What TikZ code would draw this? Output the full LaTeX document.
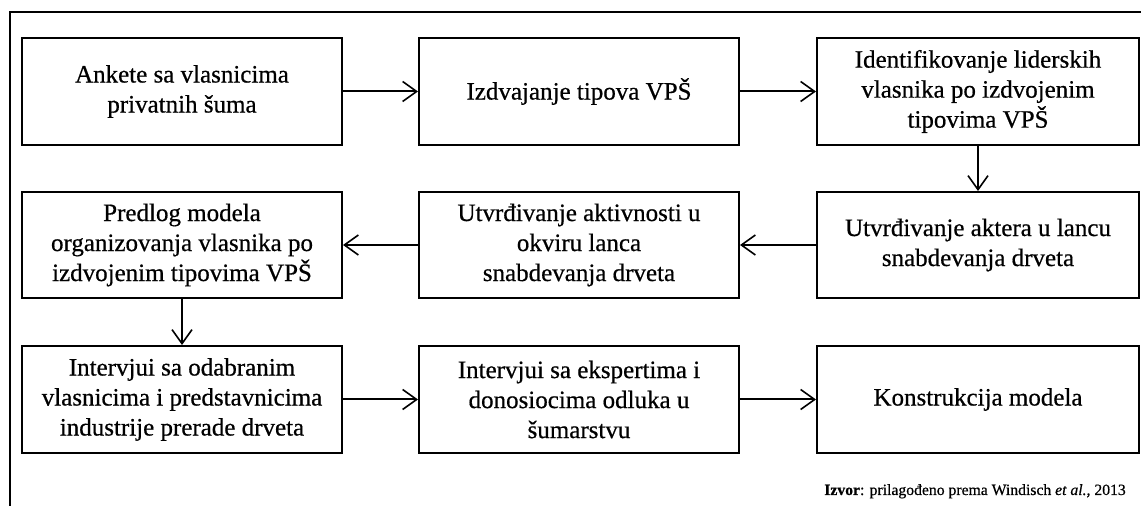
\documentclass[tikz,border=0pt]{standalone}
\usepackage{fontspec}
\setmainfont{Liberation Serif}[FakeBold=0.6]
\usetikzlibrary{arrows.meta}
\begin{document}
\begin{tikzpicture}[x=1pt,y=1pt,
  box/.style={draw=black,line width=2pt,minimum width=320pt,minimum height=107pt,
    align=center,inner sep=0pt,font=\fontsize{25}{30}\selectfont},
  conn/.style={line width=2pt,-{Straight Barb[length=14pt,width=20pt,line width=1.6pt]}},
  framel/.style={line width=1.4pt}]
\useasboundingbox (0,0) rectangle (1141,506);
% frame
\coordinate (ftr) at (1141,494);
\coordinate (ftl) at (10,494);
\coordinate (fbl) at (10,0);
\draw[framel] (ftr) -- (ftl) -- (fbl);
% row 1
\node[box] (b1) at (182,414.5) {Ankete sa vlasnicima\\privatnih šuma};
\node[box] (b2) at (579,414.5) {Izdvajanje tipova VPŠ};
\node[box,minimum width=322pt] (b3) at (978,414.5) {Identifikovanje liderskih\\vlasnika po izdvojenim\\tipovima VPŠ};
% row 2
\node[box,minimum height=106pt] (b4) at (182,261) {Predlog modela\\organizovanja vlasnika po\\izdvojenim tipovima VPŠ};
\node[box,minimum height=106pt] (b5) at (579,261) {Utvrđivanje aktivnosti u\\okviru lanca\\snabdevanja drveta};
\node[box,minimum width=322pt,minimum height=106pt] (b6) at (978,261) {Utvrđivanje aktera u lancu\\snabdevanja drveta};
% row 3
\node[box] (b7) at (182,106.5) {Intervjui sa odabranim\\vlasnicima i predstavnicima\\industrije prerade drveta};
\node[box] (b8) at (579,106.5) {Intervjui sa ekspertima i\\donosiocima odluka u\\šumarstvu};
\node[box,minimum width=322pt] (b9) at (978,106.5) {Konstrukcija modela};
% connectors
\draw[conn] (b1) -- (b2);
\draw[conn] (b2) -- (b3);
\draw[conn] (b3) -- (b6);
\draw[conn] (b6) -- (b5);
\draw[conn] (b5) -- (b4);
\draw[conn] (b4) -- (b7);
\draw[conn] (b7) -- (b8);
\draw[conn] (b8) -- (b9);
% source
\node[anchor=base east,inner sep=0pt,font=\fontsize{15.7}{18}\selectfont] (src) at (1126,11)
  {\textbf{Izvor}: prilagođeno prema Windisch \textit{et al.}, 2013};
\end{tikzpicture}
\end{document}
